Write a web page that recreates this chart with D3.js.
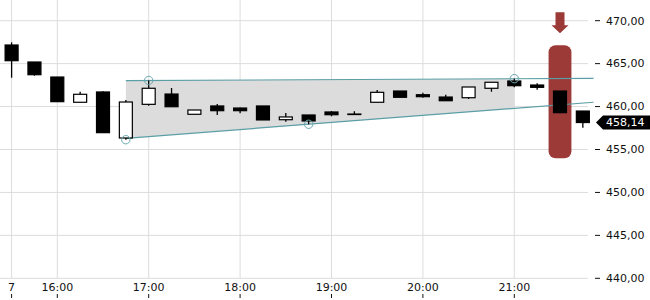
<!DOCTYPE html>
<html lang="de">
<head>
<meta charset="UTF-8" />
<title>Candlestick</title>
<script src="https://cdn.jsdelivr.net/npm/d3@7"></script>
<style>
  body { margin: 0; background: #fff; }
  svg { display: block; font-family: "DejaVu Sans", sans-serif; }
</style>
</head>
<body>
<div id="chart"></div>
<script>
// 15-Minuten-Kerzen
const times = ["15:30","15:45","16:00","16:15","16:30","16:45","17:00","17:15","17:30","17:45",
  "18:00","18:15","18:30","18:45","19:00","19:15","19:30","19:45","20:00","20:15",
  "20:30","20:45","21:00","21:15","21:30","21:45"];
const open  = [467.17,465.19,463.44,460.50,461.70,456.34,460.26,461.46,459.10,460.07,
  459.83,460.07,458.47,459.02,459.37,459.10,460.50,461.81,461.38,461.11,
  461.03,462.13,462.98,462.51,461.81,459.48];
const high  = [467.48,465.19,463.44,461.73,461.78,460.77,463.04,462.16,459.60,460.30,
  459.90,460.07,459.25,459.02,459.48,459.45,461.93,461.81,461.62,461.38,
  462.28,462.83,463.25,462.71,461.81,459.48];
const low   = [463.36,463.60,460.57,460.50,456.96,456.14,460.10,459.98,459.10,459.02,
  459.22,458.44,458.24,457.94,458.87,459.10,460.50,461.08,461.03,460.68,
  460.88,461.73,462.24,461.96,459.29,457.54];
const close = [465.34,463.71,460.57,461.43,456.96,460.53,462.13,459.98,459.60,459.52,
  459.52,458.44,458.79,458.32,459.05,459.13,461.66,461.08,461.15,460.68,
  462.28,462.83,462.43,462.24,459.29,458.14];

// Achsen
const xTickTimes  = ["15:30","16:00","17:00","18:00","19:00","20:00","21:00"];
const xTickLabels = ["7","16:00","17:00","18:00","19:00","20:00","21:00"];
const yTicks = [440, 445, 450, 455, 460, 465, 470];

// Trendkanal (Start/Ende) und Wendepunkte
const upperLine = [["16:45", 463.02], ["21:52", 463.29]];
const lowerLine = [["16:45", 456.30], ["21:52", 460.50]];
const shadeEnd = "21:00";
const pivots = [["16:45", 456.14], ["17:00", 463.04], ["18:45", 457.94], ["21:00", 463.25]];

// Signal
const signalTime = "21:30";
const signalRange = [467.15, 453.98];
const arrowRange = [470.97, 468.53];
const lastPrice = 458.14;

const w = 650, h = 300;
const t = s => { const [hh, mm] = s.split(":").map(Number); return new Date(2024, 0, 1, hh, mm); };

const x = d3.scaleTime().domain([t("15:00"), t("22:00")]).range([-34.1, 605.7]);
const y = d3.scaleLinear().domain([440, 470]).range([278.3, 20.7]);
const slot = x(t("16:15")) - x(t("16:00"));
const bodyW = 13;
const fmt = v => d3.format(".2f")(v).replace(".", ",");

const svg = d3.select("#chart").append("svg").attr("width", w).attr("height", h);

// Gitter
svg.append("g").selectAll("line").data(yTicks).join("line")
  .attr("x1", 0).attr("x2", 588)
  .attr("y1", d => y(d)).attr("y2", d => y(d))
  .attr("stroke", "#dcdcdc").attr("stroke-width", 1);

svg.append("g").selectAll("line").data(xTickTimes).join("line")
  .attr("x1", d => x(t(d))).attr("x2", d => x(t(d)))
  .attr("y1", 0).attr("y2", y(440))
  .attr("stroke", "#dcdcdc").attr("stroke-width", 1);

// X-Achse
const xa = svg.append("g");
xa.selectAll("text").data(xTickTimes).join("text")
  .attr("x", d => x(t(d))).attr("y", 291)
  .attr("text-anchor", "middle").attr("font-size", 11).attr("fill", "#111")
  .text((d, i) => xTickLabels[i]);
xa.selectAll("line").data(xTickTimes).join("line")
  .attr("x1", d => x(t(d))).attr("x2", d => x(t(d)))
  .attr("y1", 294).attr("y2", 298)
  .attr("stroke", "#111").attr("stroke-width", 1);

// Y-Achse
const ya = svg.append("g");
ya.selectAll("line").data(yTicks).join("line")
  .attr("x1", 595).attr("x2", 600)
  .attr("y1", d => y(d)).attr("y2", d => y(d))
  .attr("stroke", "#111").attr("stroke-width", 1);
ya.selectAll("text").data(yTicks).join("text")
  .attr("x", 606).attr("y", d => y(d)).attr("dy", "0.35em")
  .attr("font-size", 11).attr("fill", "#111")
  .text(d => fmt(d));

// Kanal-Fläche
const lerp = (line, tm) => {
  const x0 = x(t(line[0][0])), x1 = x(t(line[1][0])), xv = x(t(tm));
  return y(line[0][1]) + (y(line[1][1]) - y(line[0][1])) * (xv - x0) / (x1 - x0);
};
const xs = x(t(upperLine[0][0])), xe = x(t(shadeEnd));
svg.append("path")
  .attr("d", `M${xs},${y(upperLine[0][1])}L${xe},${lerp(upperLine, shadeEnd)}L${xe},${lerp(lowerLine, shadeEnd)}L${xs},${y(lowerLine[0][1])}Z`)
  .attr("fill", "#dcdcdc");

// Signalbox
const sx = x(t(signalTime));
svg.append("rect")
  .attr("x", sx - slot / 2).attr("width", slot)
  .attr("y", y(signalRange[0])).attr("height", y(signalRange[1]) - y(signalRange[0]))
  .attr("rx", 7).attr("fill", "#9b3a37");

// Pfeil
const ay0 = y(arrowRange[0]), ay1 = y(arrowRange[1]);
svg.append("path")
  .attr("d", `M${sx - 4.5},${ay0}H${sx + 4.5}V${ay1 - 8}H${sx + 8.5}L${sx},${ay1}L${sx - 8.5},${ay1 - 8}H${sx - 4.5}Z`)
  .attr("fill", "#9b3a37");

// Trendlinien
const line = d3.line().x(d => x(t(d[0]))).y(d => y(d[1]));
[upperLine, lowerLine].forEach(l => {
  svg.append("path").attr("d", line(l))
    .attr("fill", "none").attr("stroke", "#5a9ea6").attr("stroke-width", 1.2);
});

// Kerzen
const candles = times.map((tm, i) => ({ tm, o: open[i], h: high[i], l: low[i], c: close[i] }));
const cg = svg.append("g").selectAll("g").data(candles).join("g");
cg.append("line")
  .attr("x1", d => x(t(d.tm))).attr("x2", d => x(t(d.tm)))
  .attr("y1", d => y(d.h)).attr("y2", d => y(d.l))
  .attr("stroke", "#000").attr("stroke-width", 1.3);
cg.append("rect")
  .attr("x", d => x(t(d.tm)) - bodyW / 2).attr("width", bodyW)
  .attr("y", d => y(Math.max(d.o, d.c)))
  .attr("height", d => Math.max(0.5, Math.abs(y(d.o) - y(d.c))))
  .attr("fill", d => d.c >= d.o ? "#fff" : "#000")
  .attr("stroke", "#000").attr("stroke-width", 1.2);

// Wendepunkte
svg.append("g").selectAll("circle").data(pivots).join("circle")
  .attr("cx", d => x(t(d[0]))).attr("cy", d => y(d[1])).attr("r", 4.2)
  .attr("fill", "none").attr("stroke", "#6aa8ae").attr("stroke-width", 1);

// Kursmarke
const py = y(lastPrice);
svg.append("path")
  .attr("d", `M596,${py}L603,${py - 7}H650V${py + 7}H603Z`)
  .attr("fill", "#000");
svg.append("text")
  .attr("x", 606).attr("y", py).attr("dy", "0.35em")
  .attr("font-size", 11).attr("fill", "#fff")
  .text(fmt(lastPrice));
</script>
</body>
</html>
